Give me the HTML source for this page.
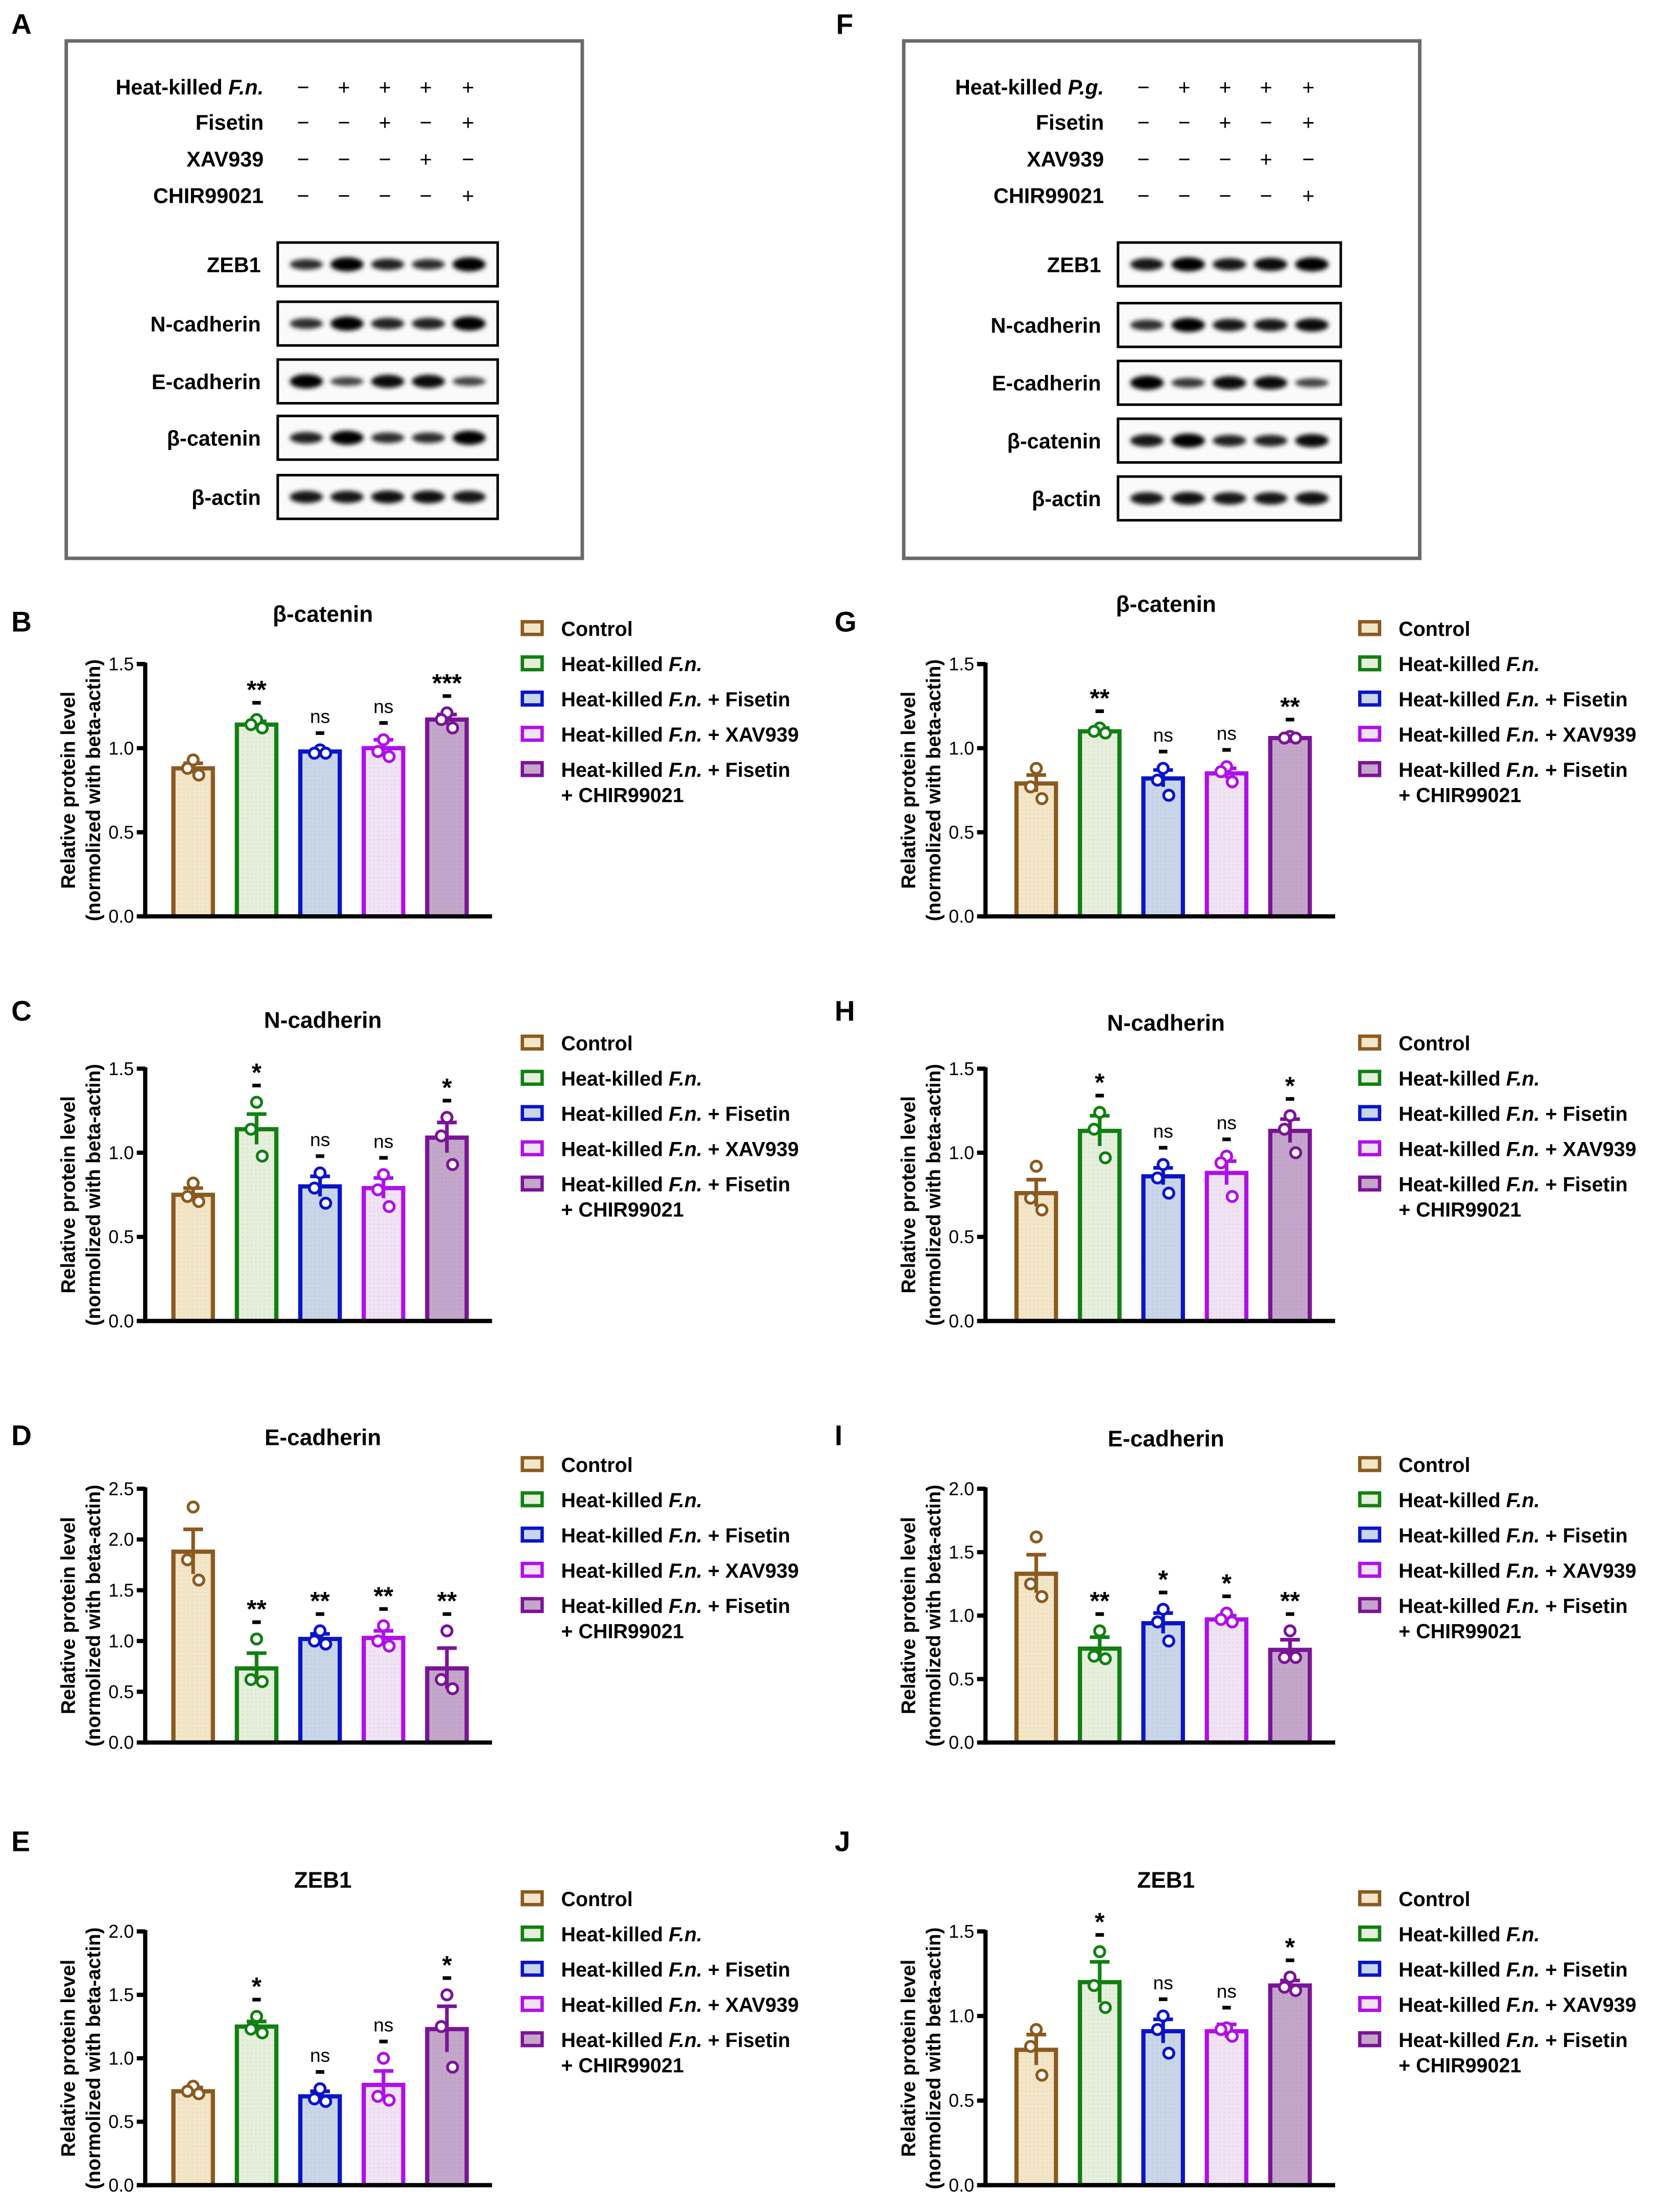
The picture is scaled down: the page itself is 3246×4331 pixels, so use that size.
<!DOCTYPE html>
<html><head><meta charset="utf-8">
<style>
html,body{margin:0;padding:0;background:#fff;}
svg{display:block;font-family:"Liberation Sans",Arial,sans-serif;}
</style></head>
<body>
<svg id="fig" width="3246" height="4331" viewBox="0 0 1176 1569" xmlns="http://www.w3.org/2000/svg">
<defs>
<filter id="blur" x="-20%" y="-100%" width="140%" height="300%"><feGaussianBlur stdDeviation="1.6"/></filter>
<pattern id="dots" width="3" height="3" patternUnits="userSpaceOnUse"><rect width="3" height="3" fill="none"/><circle cx="1.5" cy="1.5" r="0.35" fill="#000" opacity="0.12"/></pattern>
</defs>
</svg>
<script>
const NS='http://www.w3.org/2000/svg';
const svg=document.getElementById('fig');
function mk(tag,attrs,parent,text){const e=document.createElementNS(NS,tag);for(const k in attrs)e.setAttribute(k,attrs[k]);if(text!==undefined)e.textContent=text;(parent||svg).appendChild(e);return e;}

// ---------- data ----------
const groups=['Control','Heat-killed F.n.','Heat-killed F.n. + Fisetin','Heat-killed F.n. + XAV939','Heat-killed F.n. + Fisetin + CHIR99021'];
const strokeColors=['#8B5A1E','#118011','#0A14C8','#B010E8','#7A1496'];
const fillColors=['#F3E6C8','#E6EFDC','#C9D6EA','#EFE3F4','#C4A6CA'];

const meansB=[0.88,1.14,0.98,1.00,1.17], semB=[0.03,0.02,0.01,0.05,0.03];
const ptsB=[[0.93,0.88,0.84],[1.17,1.14,1.12],[0.99,0.97,0.97],[1.05,0.98,0.95],[1.21,1.17,1.12]];
const sigB=['','**','ns','ns','***'];
const meansC=[0.75,1.14,0.80,0.79,1.09], semC=[0.04,0.09,0.06,0.06,0.09];
const ptsC=[[0.82,0.74,0.71],[1.30,1.14,0.98],[0.88,0.79,0.70],[0.87,0.78,0.68],[1.21,1.10,0.93]];
const sigC=['','*','ns','ns','*'];
const meansD=[1.88,0.73,1.02,1.03,0.73], semD=[0.22,0.15,0.05,0.07,0.2];
const ptsD=[[2.32,1.80,1.60],[1.02,0.62,0.60],[1.10,1.00,0.97],[1.15,1.00,0.95],[1.10,0.62,0.53]];
const sigD=['','**','**','**','**'];
const meansE=[0.74,1.25,0.70,0.79,1.23], semE=[0.03,0.04,0.04,0.11,0.18];
const ptsE=[[0.78,0.74,0.72],[1.33,1.23,1.20],[0.76,0.68,0.66],[1.00,0.70,0.67],[1.50,1.25,0.93]];
const sigE=['','*','ns','ns','*'];
const meansG=[0.79,1.10,0.82,0.85,1.06], semG=[0.05,0.02,0.05,0.03,0.01];
const ptsG=[[0.88,0.77,0.70],[1.12,1.10,1.09],[0.88,0.81,0.72],[0.89,0.86,0.80],[1.07,1.06,1.06]];
const sigG=['','**','ns','ns','**'];
const meansH=[0.76,1.13,0.86,0.88,1.13], semH=[0.08,0.09,0.05,0.07,0.07];
const ptsH=[[0.92,0.73,0.66],[1.24,1.14,0.97],[0.93,0.85,0.76],[0.98,0.94,0.74],[1.22,1.14,1.00]];
const sigH=['','*','ns','ns','*'];
const meansI=[1.33,0.74,0.94,0.97,0.73], semI=[0.15,0.09,0.08,0.03,0.08];
const ptsI=[[1.62,1.25,1.15],[0.88,0.68,0.66],[1.05,0.95,0.80],[1.02,0.97,0.95],[0.88,0.67,0.67]];
const sigI=['','**','*','*','**'];
const meansJ=[0.80,1.20,0.91,0.91,1.18], semJ=[0.09,0.12,0.07,0.04,0.03];
const ptsJ=[[0.92,0.82,0.65],[1.38,1.18,1.05],[1.00,0.92,0.78],[0.93,0.92,0.88],[1.23,1.17,1.15]];
const sigJ=['','*','ns','ns','*'];

const ticks15=['0.0','0.5','1.0','1.5'];
const ticks20=['0.0','0.5','1.0','1.5','2.0'];
const ticks25=['0.0','0.5','1.0','1.5','2.0','2.5'];

// ---------- blots ----------
const blotRows=['ZEB1','N-cadherin','E-cadherin','β-catenin','β-actin'];
const blotA=[[0.6,1,0.7,0.6,1],[0.6,1,0.7,0.7,1],[1,0.4,0.9,0.9,0.4],[0.7,1,0.6,0.6,1],[0.8,0.8,0.85,0.85,0.8]];
const blotF=[[0.8,1,0.8,0.9,1],[0.6,1,0.8,0.8,0.9],[1,0.5,0.9,0.9,0.4],[0.8,1,0.7,0.7,0.9],[0.8,0.85,0.8,0.8,0.85]];
const signsA=[['−','+','+','+','+'],['−','−','+','−','+'],['−','−','−','+','−'],['−','−','−','−','+']];
const signsF=[['−','+','+','+','+'],['−','−','+','−','+'],['−','−','−','+','−'],['−','−','−','−','+']];

function blotPanel(bx,labelX,colX,bandX,bandW,rowsY,lanes,org,name){
  const g=mk('g',{},svg);
  
  
  const box=mk('rect',{x:bx,y:29,width:366,height:367,fill:'#fff',stroke:'#6a6a6a','stroke-width':2.5},g);
  
  const tY=[62,87,113,139];
  const tNames=['Heat-killed ','Fisetin','XAV939','CHIR99021'];
  const signs=org==='F.n.'?signsA:signsF;
  tNames.forEach((t,i)=>{
    const tx=mk('text',{x:labelX,y:tY[i]+5,'text-anchor':'end','font-size':15,'font-weight':'bold'},g);
    
    tx.textContent=t;
    if(i===0){mk('tspan',{'font-style':'italic'},tx,org);}
    signs[i].forEach((s,j)=>{
      const st=mk('text',{x:colX[j],y:tY[i]+5,'text-anchor':'middle','font-size':15},g,s);
      
    });
  });
  blotRows.forEach((r,i)=>{
    const y=rowsY[i];
    const lb=mk('text',{x:labelX-2,y:y+21,'text-anchor':'end','font-size':15,'font-weight':'bold'},g,r);
    
    const rb=mk('rect',{x:bandX,y:y,width:bandW,height:31,fill:'#fafafa',stroke:'#000','stroke-width':1.8},g);
    
    lanes[i].forEach((v,j)=>{
      const cx=bandX+bandW*(0.13+0.185*j);
      const e=mk('ellipse',{cx:cx,cy:y+15.5,rx:bandW*0.075,ry:2+3*v,fill:'#000',opacity:0.55+0.45*v,filter:'url(#blur)'},g);
      
    });
  });
}
blotPanel(47,187,[215,244,273,302,332],197,156,[172,214,255,295,337],blotA,'F.n.','western-blot-a');
blotPanel(641,783,[811,840,869,898,928],793,158,[172,215,256,297,338],blotF,'P.g.','western-blot-f');

// ---------- panel letters ----------
[['A',8,24],['F',593,24],['B',8,448],['C',8,724],['D',8,1025],['E',8,1313],['G',592,448],['H',592,724],['I',592,1025],['J',592,1313]].forEach(l=>{
  const t=mk('text',{x:l[1],y:l[2],'font-size':20,'font-weight':'bold'},svg,l[0]);
  
  
});

// ---------- bar charts ----------
function chart(o){
  const g=mk('g',{},svg);
  
  
  const ax=o.ax, bx=o.bx, y0=o.y0, yTop=o.yTop, ymax=o.ymax;
  const yS=v=>y0-(v/ymax)*(y0-yTop);
  const xS=i=>bx+45*i;
  const tt=mk('text',{x:bx+92,y:o.titleY,'text-anchor':'middle','font-size':16,'font-weight':'bold'},g,o.title);
  
  const cy=(y0+yTop)/2;
  const yl=mk('text',{x:0,y:0,transform:`translate(${ax-50},${cy}) rotate(-90)`,'text-anchor':'middle','font-size':14,'font-weight':'bold'},g,'Relative protein level');
  
  const yl2=mk('text',{x:0,y:0,transform:`translate(${ax-32},${cy}) rotate(-90)`,'text-anchor':'middle','font-size':14,'font-weight':'bold'},g,'(normolized with beta-actin)');
  
  o.means.forEach((m,i)=>{
    const x=xS(i),w=28;
    const b=mk('rect',{x:x-w/2,y:yS(m),width:w,height:y0-yS(m),fill:fillColors[i],stroke:strokeColors[i],'stroke-width':3},g);
    
    const d=mk('rect',{x:x-w/2,y:yS(m),width:w,height:y0-yS(m),fill:'url(#dots)'},g);
    
    const top=yS(m+o.sem[i]),bot=yS(m-o.sem[i]);
    const eb=mk('path',{d:`M${x},${bot}V${top}M${x-7},${top}H${x+7}`,stroke:strokeColors[i],'stroke-width':2.6,fill:'none'},g);
    
    o.pts[i].forEach((p,k)=>{
      const c=mk('circle',{cx:x+[0,-4,4][k],cy:yS(p),r:3.6,fill:'#fff',stroke:strokeColors[i],'stroke-width':2},g);
      
    });
    if(o.sig[i]){
      const hi=Math.min(top,yS(Math.max(...o.pts[i])));
      const dy=hi-12;
      const dash=mk('rect',{x:x-3,y:dy-1.2,width:6,height:2.6,fill:'#000'},g);
      
      const st=o.sig[i]==='ns';
      const s=mk('text',{x:x,y:st?dy-7:dy-3,'text-anchor':'middle','font-size':st?13.5:18,'font-weight':st?'normal':'bold'},g,o.sig[i]);
      
    }
  });
  const yax=mk('line',{x1:ax,y1:yTop-1,x2:ax,y2:y0+1.5,stroke:'#000','stroke-width':3},g);
  
  const xax=mk('line',{x1:ax-1.5,y1:y0,x2:bx+212,y2:y0,stroke:'#000','stroke-width':3},g);
  
  o.ticks.forEach(t=>{
    const v=parseFloat(t),y=yS(v);
    const tk=mk('line',{x1:ax-6,y1:y,x2:ax,y2:y,stroke:'#000','stroke-width':3},g);
    
    const tl=mk('text',{x:ax-8,y:y+4.5,'text-anchor':'end','font-size':13},g,t);
    
  });
  const ly=o.legY, lx=o.legX;
  const legLines=[['Control'],['Heat-killed ','F.n.',''],['Heat-killed ','F.n.',' + Fisetin'],['Heat-killed ','F.n.',' + XAV939'],['Heat-killed ','F.n.',' + Fisetin']];
  legLines.forEach((L,i)=>{
    const y=ly+25*i;
    const lg=mk('g',{},g);
    
    mk('rect',{x:lx+1.5,y:y-5,width:14,height:9,fill:fillColors[i],stroke:strokeColors[i],'stroke-width':2.4},lg);
    const t=mk('text',{x:lx+29,y:y+5,'font-size':14.3,'font-weight':'bold'},lg,L[0]);
    if(L.length>1){mk('tspan',{'font-style':'italic'},t,L[1]);mk('tspan',{},t,L[2]);}
    if(i===4){mk('text',{x:lx+29,y:y+23,'font-size':14.3,'font-weight':'bold'},lg,'+ CHIR99021');}
  });
}
chart({name:'chart-b-beta-catenin',title:'β-catenin',ax:103,bx:137,y0:650,yTop:471,ymax:1.5,titleY:441,ticks:ticks15,means:meansB,sem:semB,pts:ptsB,sig:sigB,legX:369,legY:446});
chart({name:'chart-c-n-cadherin',title:'N-cadherin',ax:103,bx:137,y0:937,yTop:758,ymax:1.5,titleY:729,ticks:ticks15,means:meansC,sem:semC,pts:ptsC,sig:sigC,legX:369,legY:740});
chart({name:'chart-d-e-cadherin',title:'E-cadherin',ax:103,bx:137,y0:1236,yTop:1056,ymax:2.5,titleY:1025,ticks:ticks25,means:meansD,sem:semD,pts:ptsD,sig:sigD,legX:369,legY:1039});
chart({name:'chart-e-zeb1',title:'ZEB1',ax:103,bx:137,y0:1550,yTop:1370,ymax:2.0,titleY:1339,ticks:ticks20,means:meansE,sem:semE,pts:ptsE,sig:sigE,legX:369,legY:1347});
chart({name:'chart-g-beta-catenin',title:'β-catenin',ax:699,bx:735,y0:650,yTop:471,ymax:1.5,titleY:434,ticks:ticks15,means:meansG,sem:semG,pts:ptsG,sig:sigG,legX:963,legY:446});
chart({name:'chart-h-n-cadherin',title:'N-cadherin',ax:699,bx:735,y0:937,yTop:758,ymax:1.5,titleY:731,ticks:ticks15,means:meansH,sem:semH,pts:ptsH,sig:sigH,legX:963,legY:740});
chart({name:'chart-i-e-cadherin',title:'E-cadherin',ax:699,bx:735,y0:1236,yTop:1056,ymax:2.0,titleY:1026,ticks:ticks20,means:meansI,sem:semI,pts:ptsI,sig:sigI,legX:963,legY:1039});
chart({name:'chart-j-zeb1',title:'ZEB1',ax:699,bx:735,y0:1550,yTop:1370,ymax:1.5,titleY:1339,ticks:ticks15,means:meansJ,sem:semJ,pts:ptsJ,sig:sigJ,legX:963,legY:1347});
</script>
</body></html>
